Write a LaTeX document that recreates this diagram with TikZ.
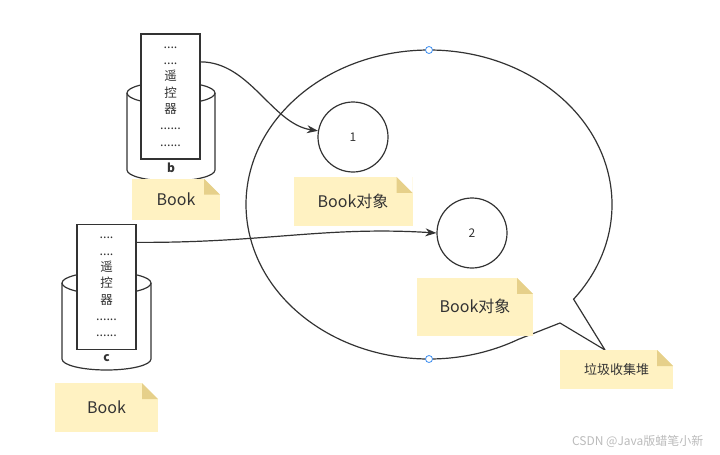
\documentclass[tikz,border=0pt]{standalone}
\usepackage{fontspec}
\setmainfont{Noto Sans CJK SC}
\usetikzlibrary{arrows.meta, positioning}
\definecolor{linegray}{HTML}{333333}
\definecolor{notefill}{HTML}{FFF2C2}
\definecolor{notefold}{HTML}{E6D08A}
\definecolor{handleblue}{HTML}{3D8EF0}
\definecolor{markgray}{HTML}{BBBBBB}

\begin{document}
\begin{tikzpicture}[
            x=1pt, y=1pt,
            every node/.style={font=\fontsize{12}{14}\selectfont, text=linegray},
            % Estilos
            phone/.style={rectangle, draw=linegray, fill=white, line width=1.2pt, minimum width=59pt, minimum height=125pt, inner sep=0pt, align=center, font=\fontsize{12.5}{16.3}\selectfont},
            store/.style={draw=linegray, line width=1.2pt},
            object/.style={circle, draw=linegray, line width=1.2pt, minimum size=70pt, inner sep=0pt},
            note/.style={rectangle, fill=notefill, inner sep=0pt, font=\fontsize{16}{18}\selectfont,
              path picture={
                \fill[white] ([xshift=-16pt]path picture bounding box.north east) -- (path picture bounding box.north east) -- ([yshift=-16pt]path picture bounding box.north east) -- cycle;
                \fill[notefold] ([xshift=-16pt]path picture bounding box.north east) -- ([xshift=-16pt,yshift=-16pt]path picture bounding box.north east) -- ([yshift=-16pt]path picture bounding box.north east) -- cycle;}},
            arrow/.style={line width=1.2pt, draw=linegray, -{Stealth[length=11pt, width=8pt]}},
            handle/.style={circle, draw=handleblue, fill=white, line width=0.8pt, minimum size=7pt, inner sep=0pt}
        ]
            \useasboundingbox (0,0) rectangle (720,-455);

            % --- Montón de recolección ---
            \draw[store] (573.6,-299.2) arc[start angle=-37.8, end angle=299.2, x radius=183, y radius=154.5] -- (560,-323) -- (605,-350) -- cycle;
            \node[handle] (htop) at (429,-50) {};
            \node[handle] (hbot) at (429,-359) {};

            % --- Cilindros ---
            \draw[store] (127,-93) -- (127,-170) arc[start angle=180, end angle=360, x radius=44, y radius=11] -- (215,-93);
            \draw[store] (171,-93) ellipse[x radius=44, y radius=11];
            \node[font=\bfseries\fontsize{12}{14}\selectfont] (lb) at (171,-168) {b};

            \draw[store] (62,-283) -- (62,-359) arc[start angle=180, end angle=360, x radius=44.5, y radius=11] -- (151,-283);
            \draw[store] (106.5,-283) ellipse[x radius=44.5, y radius=11];
            \node[font=\bfseries\fontsize{12}{14}\selectfont] (lc) at (106.5,-358) {c};

            \node[phone] (rb) at (170.5,-96.5) {....\\....\\遥\\控\\器\\......\\......};
            \node[phone] (rc) at (106.5,-287) {....\\....\\遥\\控\\器\\......\\......};

            % --- Objetos ---
            \node[object] (ob1) at (353,-137) {1};
            \node[object] (ob2) at (472,-233) {2};

            % --- Notas ---
            \node[note, minimum width=88pt, minimum height=41pt, below=2pt of lb, xshift=5pt] (nb) {Book};
            \node[note, minimum width=103pt, minimum height=49pt] (nc) at (106.5,-407.5) {Book};
            \node[note, minimum width=119pt, minimum height=49pt, below=4pt of ob1] (n1) {Book对象};
            \node[note, minimum width=116pt, minimum height=58pt, below=9pt of ob2, xshift=3pt] (n2) {Book对象};
            \node[note, minimum width=113pt, minimum height=39pt, font=\fontsize{13}{15}\selectfont] (ngc) at (616.5,-369.5) {垃圾收集堆};

            % --- Conexiones ---
            \draw[arrow] (rb.49.5) .. controls (250,-62) and (272,-124) .. (ob1.170);
            \draw[arrow] (rc.56.5) .. controls (265,-243) and (325,-226) .. (ob2.west);

            \node[text=markgray, anchor=east] (mark) at (707,-441) {CSDN @Java版蜡笔小新};

        \end{tikzpicture}
\end{document}
